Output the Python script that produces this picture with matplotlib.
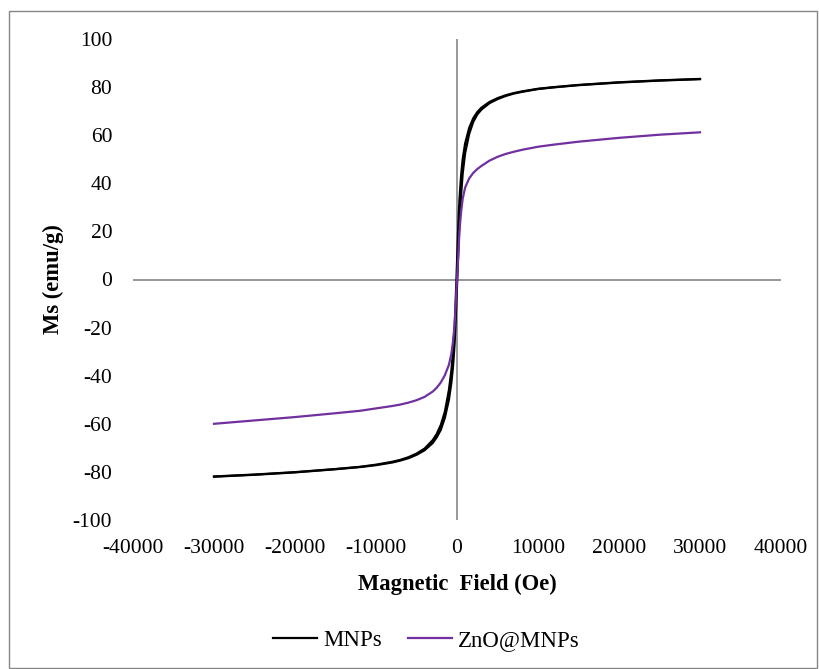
import matplotlib
matplotlib.use("Agg")
import matplotlib.pyplot as plt
from matplotlib.lines import Line2D
from matplotlib.patches import Rectangle

plt.rcParams['font.family'] = ['Liberation Serif', 'DejaVu Serif']

# Applied field (Oe)
field = [-30000, -25000, -20000, -15000, -12000, -10000, -8000, -7000, -6000,
         -5000, -4000, -3000, -2500, -2000, -1500, -1000, -700, -500, -300,
         -200, -100, 0, 100, 200, 300, 500, 700, 1000, 1500, 2000, 2500, 3000,
         4000, 5000, 6000, 7000, 8000, 10000, 12000, 15000, 20000, 25000, 30000]

# MNPs hysteresis loop: descending and ascending branches (emu/g)
mnp_down = [-81.9, -81.1, -80.1, -78.8, -77.9, -77.0, -75.8, -75.0, -73.9,
            -72.4, -70.3, -66.8, -64.2, -60.5, -55.0, -46.0, -38.0, -30.5,
            -20.0, -12.0, -3.0, 7.0, 17.0, 26.0, 33.0, 43.0, 50.0, 56.5, 63.0,
            67.0, 69.6, 71.4, 73.8, 75.4, 76.6, 77.5, 78.2, 79.3, 80.0, 80.9,
            82.0, 82.8, 83.4]
mnp_up = [-82.0, -81.2, -80.2, -78.9, -78.0, -77.2, -76.1, -75.3, -74.3,
          -72.9, -71.0, -68.0, -65.6, -62.5, -57.5, -50.0, -43.0, -36.5,
          -27.0, -20.0, -12.0, -3.0, 6.0, 15.0, 23.0, 35.0, 44.0, 52.5, 60.5,
          65.5, 68.6, 70.6, 73.3, 75.0, 76.3, 77.3, 78.0, 79.2, 79.9, 80.8,
          81.9, 82.7, 83.3]

# ZnO@MNPs magnetisation curve (emu/g)
zno = [-60.0, -58.6, -57.2, -55.6, -54.6, -53.6, -52.6, -52.0, -51.2,
       -50.2, -48.8, -46.6, -45.0, -42.8, -39.8, -35.5, -31.0, -26.0,
       -19.0, -13.0, -6.5, 0.0, 6.5, 13.0, 20.0, 28.0, 33.5, 38.2, 42.0,
       44.3, 45.9, 47.2, 49.4, 51.0, 52.2, 53.1, 53.9, 55.2, 56.1, 57.3,
       58.9, 60.2, 61.2]

x_ticks = [-40000, -30000, -20000, -10000, 0, 10000, 20000, 30000, 40000]
y_ticks = [-100, -80, -60, -40, -20, 0, 20, 40, 60, 80, 100]

fig = plt.figure(figsize=(8.2, 6.69), dpi=100)
ax = fig.add_axes([133 / 820, 1 - 520 / 669, (781 - 133) / 820, (520 - 39) / 669])

axis_grey = '#868686'
ax.axhline(0, color=axis_grey, lw=1.2, zorder=1)
ax.axvline(0, color=axis_grey, lw=1.2, zorder=1)

black = '#000000'
purple = '#7030A0'
ax.plot(field, mnp_down, color=black, lw=1.6, zorder=2)
ax.plot(field[::-1], mnp_up[::-1], color=black, lw=1.6, zorder=2)
ax.plot(field, zno, color=purple, lw=1.6, zorder=3)

ax.set_xlim(-40000, 40000)
ax.set_ylim(-100, 100)
ax.set_xticks(x_ticks)
ax.set_yticks(y_ticks)
ax.set_xticklabels([str(v) for v in x_ticks])
ax.set_yticklabels([str(v) for v in y_ticks])
for s in ax.spines.values():
    s.set_visible(False)
ax.tick_params(axis='both', length=0, labelsize=15.5)
ax.tick_params(axis='x', pad=14)
ax.tick_params(axis='y', pad=15)

ax.set_xlabel('Magnetic  Field (Oe)', fontsize=16.3, fontweight='bold', labelpad=11)
ax.set_ylabel('Ms (emu/g)', fontsize=16.3, fontweight='bold', labelpad=6)

handles = [Line2D([], [], color=black, lw=1.6), Line2D([], [], color=purple, lw=1.6)]
fig.legend(handles, ['MNPs', 'ZnO@MNPs'], loc='center', bbox_to_anchor=(0.52, 0.042),
           ncol=2, frameon=False, fontsize=16.5, handlelength=1.92,
           handletextpad=0.26, columnspacing=1.13)

fig.add_artist(Rectangle((9.5 / 820, 1 / 669), (817 - 9.5) / 820, (657.5) / 669,
                         transform=fig.transFigure, fill=False,
                         edgecolor=axis_grey, lw=1.0))

fig.savefig('out.png', dpi=100)
